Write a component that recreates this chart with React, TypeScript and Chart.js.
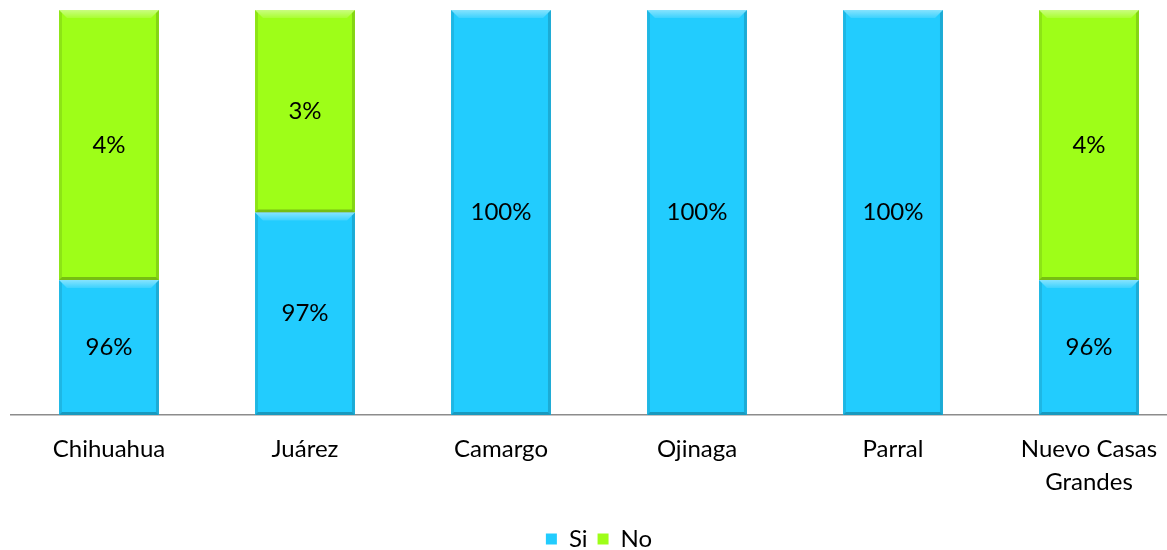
import React, { useEffect, useRef } from "react";
import { Chart, registerables } from "chart.js";

Chart.register(...registerables);

const categories: (string | string[])[] = ["Chihuahua", "Juárez", "Camargo", "Ojinaga", "Parral", ["Nuevo Casas", "Grandes"]];
const siValues = [96, 97, 100, 100, 100, 96];
const noValues = [4, 3, 0, 0, 0, 4];
const seriesNames = ["Si", "No"];
const yMin = 94;
const yMax = 100;

const BLUE = "#22CCFE";
const GREEN = "#9EFE18";
const FONT = "Lato, 'Open Sans', sans-serif";
const FS = 24;

const bevelPlugin = {
  id: "bevel",
  afterDatasetsDraw(chart: any) {
    const ctx = chart.ctx;
    const area = chart.chartArea;
    chart.data.datasets.forEach((ds: any, di: number) => {
      const meta = chart.getDatasetMeta(di);
      meta.data.forEach((el: any, i: number) => {
        const v = ds.data[i];
        if (!v) return;
        const p = el.getProps(["x", "y", "base", "width"], true);
        const l = p.x - p.width / 2;
        const r = p.x + p.width / 2;
        const t = Math.max(Math.min(p.y, p.base), area.top);
        const b = Math.min(Math.max(p.y, p.base), area.bottom);
        if (b - t < 2) return;
        const s = 8;
        const sw = 3;
        ctx.save();
        ctx.beginPath();
        ctx.moveTo(l, t);
        ctx.lineTo(r, t);
        ctx.lineTo(r - s, t + s);
        ctx.lineTo(l + s, t + s);
        ctx.closePath();
        const g = ctx.createLinearGradient(0, t, 0, t + s);
        g.addColorStop(0, "rgba(255,255,255,0.45)");
        g.addColorStop(1, "rgba(255,255,255,0.12)");
        ctx.fillStyle = g;
        ctx.fill();
        ctx.beginPath();
        ctx.moveTo(l, t);
        ctx.lineTo(l + sw, t + sw);
        ctx.lineTo(l + sw, b - sw);
        ctx.lineTo(l, b);
        ctx.closePath();
        ctx.fillStyle = "rgba(0,0,0,0.10)";
        ctx.fill();
        ctx.beginPath();
        ctx.moveTo(r, t);
        ctx.lineTo(r - sw, t + sw);
        ctx.lineTo(r - sw, b - sw);
        ctx.lineTo(r, b);
        ctx.closePath();
        ctx.fillStyle = "rgba(0,0,0,0.16)";
        ctx.fill();
        ctx.beginPath();
        ctx.moveTo(l, b);
        ctx.lineTo(r, b);
        ctx.lineTo(r - sw, b - sw);
        ctx.lineTo(l + sw, b - sw);
        ctx.closePath();
        ctx.fillStyle = "rgba(0,0,0,0.25)";
        ctx.fill();
        ctx.fillStyle = "#000";
        ctx.font = `${FS}px ${FONT}`;
        ctx.textAlign = "center";
        ctx.textBaseline = "middle";
        ctx.fillText(`${v}%`, p.x, (t + b) / 2);
        ctx.restore();
      });
    });
  },
};

export default function App() {
  const ref = useRef<HTMLCanvasElement | null>(null);
  useEffect(() => {
    if (!ref.current) return;
    const chart = new Chart(ref.current, {
      type: "bar",
      data: {
        labels: categories as any,
        datasets: [
          {
            label: seriesNames[0],
            data: siValues,
            backgroundColor: BLUE,
            borderWidth: 0,
            categoryPercentage: 1,
            barPercentage: 0.51,
          },
          {
            label: seriesNames[1],
            data: noValues,
            backgroundColor: GREEN,
            borderWidth: 0,
            categoryPercentage: 1,
            barPercentage: 0.51,
          },
        ],
      },
      options: {
        responsive: false,
        animation: false,
        layout: { padding: { left: 11, right: 13, top: 10, bottom: 0 } },
        plugins: {
          tooltip: { enabled: false },
          legend: {
            position: "bottom",
            labels: {
              font: { family: FONT, size: 24 },
              color: "#000",
              boxWidth: 11,
              boxHeight: 11,
              padding: 10,
            },
          },
        },
        scales: {
          x: {
            stacked: true,
            grid: { display: false, drawTicks: false },
            border: { display: true, color: "#8c8c8c", width: 1.5 },
            ticks: {
              font: { family: FONT, size: FS, lineHeight: 1.375 },
              color: "#000",
              padding: 18,
              autoSkip: false,
              maxRotation: 0,
            },
          },
          y: {
            stacked: true,
            display: false,
            min: yMin,
            max: yMax,
          },
        },
      },
      plugins: [bevelPlugin],
    });
    return () => chart.destroy();
  }, []);
  return (
    <div style={{ position: "fixed", left: 0, top: 0, width: 1200, height: 561, background: "#fff" }}>
      <canvas ref={ref} width={1200} height={561} style={{ width: 1200, height: 561 }} />
    </div>
  );
}
